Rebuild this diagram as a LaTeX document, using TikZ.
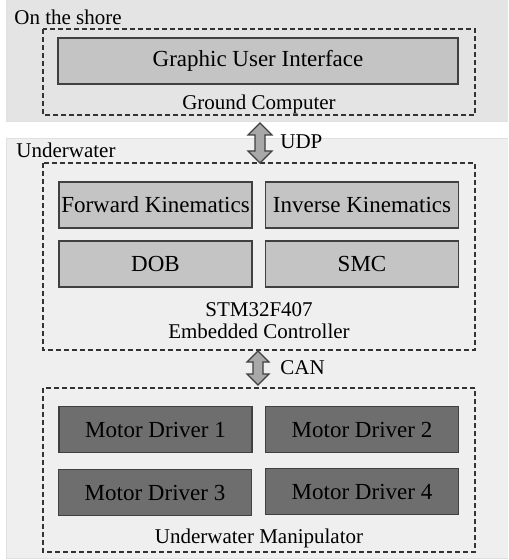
\documentclass[tikz,border=0pt]{standalone}
\usepackage{fontspec}
\setmainfont{Liberation Serif}
\definecolor{shorebg}{HTML}{E4E4E4}
\definecolor{waterbg}{HTML}{EFEFEF}
\definecolor{blockgray}{HTML}{C4C4C4}
\definecolor{drivergray}{HTML}{6E6E6E}
\definecolor{linkgray}{HTML}{A8A8A8}
\tikzset{
  panel/.style={draw=black!12, line width=0.4pt},
  group/.style={draw=black!80, line width=0.7pt, dash pattern=on 2.5pt off 1.5pt},
  block/.style={draw=black!75, fill=blockgray, line width=0.7pt, inner sep=0pt,
    minimum width=96.5pt, minimum height=23pt, font=\fontsize{11.5}{13}\selectfont},
  driver/.style={block, fill=drivergray},
  caption/.style={inner sep=0pt, font=\fontsize{10.5}{12}\selectfont},
  link/.style={draw=black!75, fill=linkgray, line width=0.6pt, line join=miter}
}
\begin{document}
\begin{tikzpicture}[x=0.5pt, y=-0.5pt]
  \useasboundingbox (0,0) rectangle (508,560);

  % fondos
  \fill[shorebg] (6,0) rectangle (508,121);
  \draw[panel] (6,0) -- (6,121) -- (508,121);
  \fill[waterbg] (6,138) rectangle (508,558);
  \draw[panel] (508,138) -- (6,138) -- (6,558) -- (508,558);
  \node[caption, anchor=west] (shore) at (14,17) {On the shore};
  \node[caption, anchor=west] (water) at (16,150) {Underwater};

  %—————— Ground Computer ——————————————————————————————
  \draw[group] (43,29) rectangle (475,115);
  \node[block, minimum width=200pt] (gui) at (258,61) {Graphic User Interface};
  \node[caption] (gc) at (259,104) {Ground Computer};

  %—————— Embedded Controller ——————————————————————————
  \draw[group] (43,163) rectangle (475,350);
  \node[block] (fk)  at (155.5,205) {Forward Kinematics};
  \node[block] (ik)  at (362,205)   {Inverse Kinematics};
  \node[block] (dob) at (155.5,264) {DOB};
  \node[block] (smc) at (362,264)   {SMC};
  \node[caption] (stm) at (259,310) {STM32F407};
  \node[caption] (ec)  at (259,331) {Embedded Controller};

  %—————— Underwater Manipulator ———————————————————————
  \draw[group] (43,388) rectangle (475,552);
  \node[driver] (md1) at (155.5,429.5) {Motor Driver 1};
  \node[driver] (md2) at (362,429.5)   {Motor Driver 2};
  \node[driver] (md3) at (155,492.5)   {Motor Driver 3};
  \node[driver] (md4) at (362,491.5)   {Motor Driver 4};
  \node[caption] (um) at (259,538) {Underwater Manipulator};

  %—————— enlaces UDP y CAN ————————————————————————————
  \coordinate (udp top) at (260,123);
  \coordinate (udp bot) at (260,163);
  \draw[link] (udp top) -- ++(12,12) -- ++(-7,0) -- ++(0,16) -- ++(7,0)
    -- (udp bot) -- ++(-12,-12) -- ++(7,0) -- ++(0,-16) -- ++(-7,0) -- cycle;
  \node[caption, anchor=west] (udp) at (280,142) {UDP};

  \coordinate (can top) at (258,351);
  \coordinate (can bot) at (258,385);
  \draw[link] (can top) -- ++(11,11) -- ++(-6,0) -- ++(0,12) -- ++(6,0)
    -- (can bot) -- ++(-11,-11) -- ++(6,0) -- ++(0,-12) -- ++(-6,0) -- cycle;
  \node[caption, anchor=west] (can) at (280,368) {CAN};
\end{tikzpicture}
\end{document}
